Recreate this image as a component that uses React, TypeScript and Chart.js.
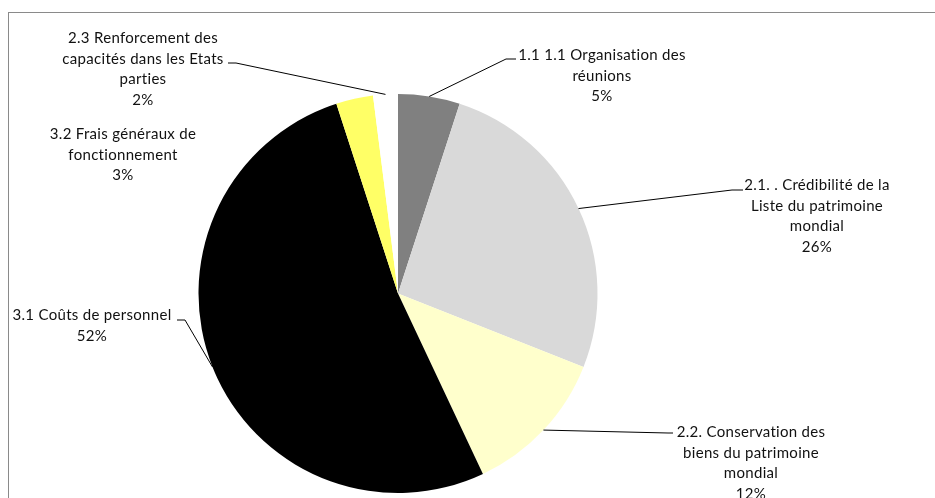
import React, { useEffect, useRef } from "react";
import { Chart, registerables } from "chart.js";

Chart.register(...registerables);

const categories: string[] = [
  "1.1 1.1 Organisation des\nréunions",
  "2.1. . Crédibilité de la\nListe du patrimoine\nmondial",
  "2.2. Conservation des\nbiens du patrimoine\nmondial",
  "3.1 Coûts de personnel",
  "3.2 Frais généraux de\nfonctionnement",
  "2.3 Renforcement des\ncapacités dans les Etats\nparties",
];
const values: number[] = [5, 26, 12, 52, 3, 2];
const colors: string[] = ["#808080", "#D9D9D9", "#FFFFCC", "#000000", "#FFFF66", "#FFFFFF"];

// label block layout: center x, first line y, leader polyline points (from arc outward)
const labelLayout: { cx: number; y: number; leader: number[][] | null }[] = [
  { cx: 602, y: 55, leader: [[506, 59], [516, 59]] },
  { cx: 817, y: 185, leader: [[732, 190], [743, 190]] },
  { cx: 751, y: 432, leader: [[668, 433], [673, 433]] },
  { cx: 92, y: 315, leader: [[185, 320], [177, 320]] },
  { cx: 123, y: 134, leader: null },
  { cx: 143, y: 38, leader: [[236, 63], [228, 63]] },
];

const FONT = '15px "Lato", "Open Sans", sans-serif';
const LINE_H = 20.7;

const labelPlugin = {
  id: "excelLabels",
  beforeDraw(chart: any) {
    const ctx = chart.ctx;
    ctx.save();
    ctx.fillStyle = "#FFFFFF";
    ctx.fillRect(0, 0, chart.width, chart.height);
    ctx.strokeStyle = "#8A8A8A";
    ctx.lineWidth = 1;
    ctx.strokeRect(8.5, 12.5, 2000, 2000);
    ctx.restore();
  },
  afterDraw(chart: any) {
    const ctx = chart.ctx;
    const meta = chart.getDatasetMeta(0);
    const data = chart.data.datasets[0].data as number[];
    const total = data.reduce((a, b) => a + b, 0);
    ctx.save();
    meta.data.forEach((el: any, i: number) => {
      const lay = labelLayout[i];
      if (!lay) return;
      if (lay.leader) {
        const mid = (el.startAngle + el.endAngle) / 2;
        const ax = el.x + Math.cos(mid) * el.outerRadius;
        const ay = el.y + Math.sin(mid) * el.outerRadius;
        ctx.beginPath();
        ctx.moveTo(ax, ay);
        lay.leader.forEach((p) => ctx.lineTo(p[0], p[1]));
        ctx.strokeStyle = "#000000";
        ctx.lineWidth = 1;
        ctx.stroke();
      }
      const lines = (chart.data.labels[i] as string).split("\n");
      lines.push(Math.round((data[i] / total) * 100) + "%");
      ctx.font = FONT;
      try {
        (ctx as any).letterSpacing = "0.3px";
      } catch (e) {}
      ctx.fillStyle = "#111111";
      ctx.textAlign = "center";
      ctx.textBaseline = "middle";
      lines.forEach((t, k) => ctx.fillText(t, lay.cx, lay.y + k * LINE_H));
    });
    ctx.restore();
  },
};

export default function App() {
  const ref = useRef<HTMLCanvasElement | null>(null);
  useEffect(() => {
    if (!ref.current) return;
    const chart = new Chart(ref.current, {
      type: "pie",
      data: {
        labels: categories,
        datasets: [
          {
            data: values,
            backgroundColor: colors,
            borderWidth: 0,
          },
        ],
      },
      options: {
        responsive: false,
        animation: false,
        events: [],
        layout: { padding: { left: 198, right: 337, top: 94, bottom: 5 } },
        plugins: {
          legend: { display: false },
          tooltip: { enabled: false },
        },
      },
      plugins: [labelPlugin],
    });
    return () => chart.destroy();
  }, []);
  return (
    <div style={{ position: "fixed", left: 0, top: 0, width: 935, height: 498, overflow: "hidden" }}>
      <canvas ref={ref} width={935} height={498} style={{ display: "block" }} />
    </div>
  );
}
